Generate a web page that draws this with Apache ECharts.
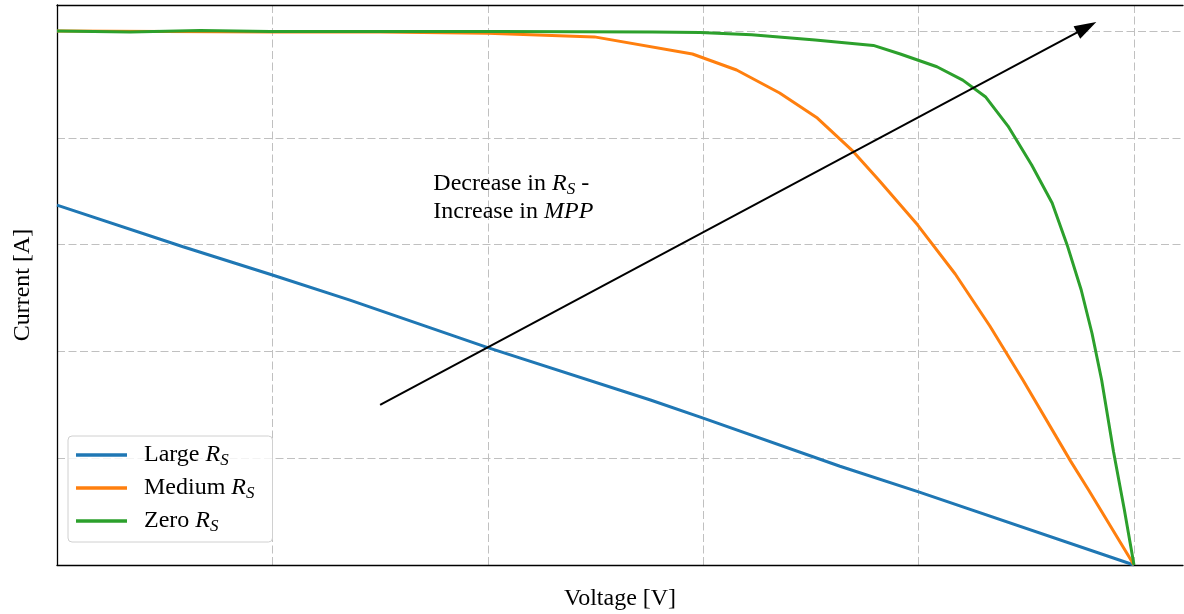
<!DOCTYPE html>
<html>
<head>
<meta charset="utf-8">
<script src="https://cdn.jsdelivr.net/npm/echarts@6/dist/echarts.min.js"></script>
<style>
html,body{margin:0;padding:0;background:#fff;}
#chart{width:1184px;height:614px;}
</style>
</head>
<body>
<div id="chart"></div>
<script>
// ---- data (normalised voltage / current) ----
const seriesNames = ['Large', 'Medium', 'Zero'];
const largeRs = [[0,0.674],[0.117,0.596],[0.2,0.543],[0.272,0.496],[0.4,0.407],[0.551,0.309],[0.6,0.275],[0.727,0.185],[0.8,0.137],[1.0,0]];
const mediumRs = [[0,1.0],[0.1,0.999],[0.2,0.998],[0.3,0.998],[0.4,0.996],[0.499,0.989],[0.59,0.957],[0.631,0.927],[0.671,0.884],[0.706,0.837],[0.739,0.775],[0.763,0.721],[0.799,0.637],[0.834,0.545],[0.866,0.448],[0.897,0.346],[0.941,0.195],[0.958,0.14],[1.0,0]];
const zeroRs = [[0,1.0],[0.068,0.998],[0.133,1.001],[0.198,0.999],[0.318,0.999],[0.411,0.999],[0.553,0.998],[0.597,0.997],[0.645,0.993],[0.704,0.983],[0.758,0.973],[0.783,0.957],[0.817,0.933],[0.841,0.908],[0.862,0.877],[0.883,0.822],[0.905,0.749],[0.924,0.678],[0.938,0.599],[0.951,0.515],[0.961,0.434],[0.970,0.346],[0.981,0.212],[0.991,0.104],[1.0,0]];
const arrowStart = [0.3, 0.3];
const arrowEnd = [0.956, 1.007];
const annotationPos = [0.349, 0.687];
const xLabel = 'Voltage [V]';
const yLabel = 'Current [A]';

const colors = ['#1f77b4', '#ff7f0e', '#2ca02c'];
const FONT = 'Liberation Serif';
const FS = 24;

const chart = echarts.init(document.getElementById('chart'), null, {renderer: 'canvas'});

const rich = {
  t: {fontFamily: FONT, fontSize: FS, color: '#000', lineHeight: 28},
  i: {fontFamily: FONT, fontSize: FS, fontStyle: 'italic', color: '#000', lineHeight: 28},
  s: {fontFamily: FONT, fontSize: 17, fontStyle: 'italic', color: '#000', lineHeight: 28, padding: [11,0,0,0]},
  p: {fontFamily: FONT, fontSize: FS, color: '#000', lineHeight: 28, padding: [0,0,0,12]}
};

const lineSeries = [largeRs, mediumRs, zeroRs].map((d, k) => ({
  name: seriesNames[k],
  type: 'line',
  data: d,
  showSymbol: false,
  symbol: 'none',
  lineStyle: {color: colors[k], width: 3},
  itemStyle: {color: colors[k]},
  animation: false,
  z: 3
}));

lineSeries.push({
  type: 'line',
  data: [],
  animation: false,
  markLine: {
    silent: true,
    animation: false,
    symbol: ['none', 'triangle'],
    symbolSize: [14, 22],
    label: {show: false},
    lineStyle: {color: '#000', width: 2, type: 'solid'},
    data: [[{coord: arrowStart}, {coord: arrowEnd}]]
  },
  markPoint: {
    silent: true,
    animation: false,
    symbol: 'rect',
    symbolSize: 1,
    itemStyle: {color: 'rgba(0,0,0,0)'},
    label: {
      show: true,
      position: 'right',
      distance: 0,
      align: 'left',
      formatter: '{t|Decrease in }{i|R}{s|S}{t| -}\n{t|Increase in }{i|MPP}',
      rich: rich
    },
    data: [{coord: annotationPos}]
  }
});

const axisLineStyle = {show: true, onZero: false, lineStyle: {color: '#000', width: 1.3}};
const splitLineCfg = {show: true, showMinLine: false, showMaxLine: false, lineStyle: {color: '#c0c0c0', width: 1, type: [8, 3.5]}};

chart.setOption({
  backgroundColor: '#fff',
  animation: false,
  grid: {left: 57, top: 5, width: 1126, height: 560, containLabel: false, outerBoundsMode: 'none'},
  legend: {
    data: seriesNames,
    orient: 'vertical',
    left: 68, top: 436,
    icon: 'rect',
    itemWidth: 51, itemHeight: 3.5,
    itemGap: 5,
    padding: [5, 18, 7, 8],
    backgroundColor: 'rgba(255,255,255,0.8)',
    borderColor: '#d0d0d0', borderWidth: 1, borderRadius: 4,
    formatter: n => '{p|' + n + ' }{i|R}{s|S}',
    textStyle: {rich: rich}
  },
  xAxis: [{
    type: 'value', min: 0, max: 1.0455, interval: 0.2, position: 'bottom',
    axisLine: axisLineStyle, axisTick: {show: false}, axisLabel: {show: false},
    splitLine: splitLineCfg,
    name: xLabel, nameLocation: 'middle', nameGap: 22,
    nameTextStyle: {fontFamily: FONT, fontSize: FS, color: '#000'}
  }, {
    type: 'value', min: 0, max: 1.0455, position: 'top',
    axisLine: axisLineStyle, axisTick: {show: false}, axisLabel: {show: false},
    splitLine: {show: false}
  }],
  yAxis: {
    type: 'value', min: 0, max: 1.0487, interval: 0.2,
    axisLine: axisLineStyle, axisTick: {show: false}, axisLabel: {show: false},
    splitLine: splitLineCfg,
    name: yLabel, nameLocation: 'middle', nameGap: 22,
    nameTextStyle: {fontFamily: FONT, fontSize: FS, color: '#000'}
  },
  series: lineSeries
});
</script>
</body>
</html>
